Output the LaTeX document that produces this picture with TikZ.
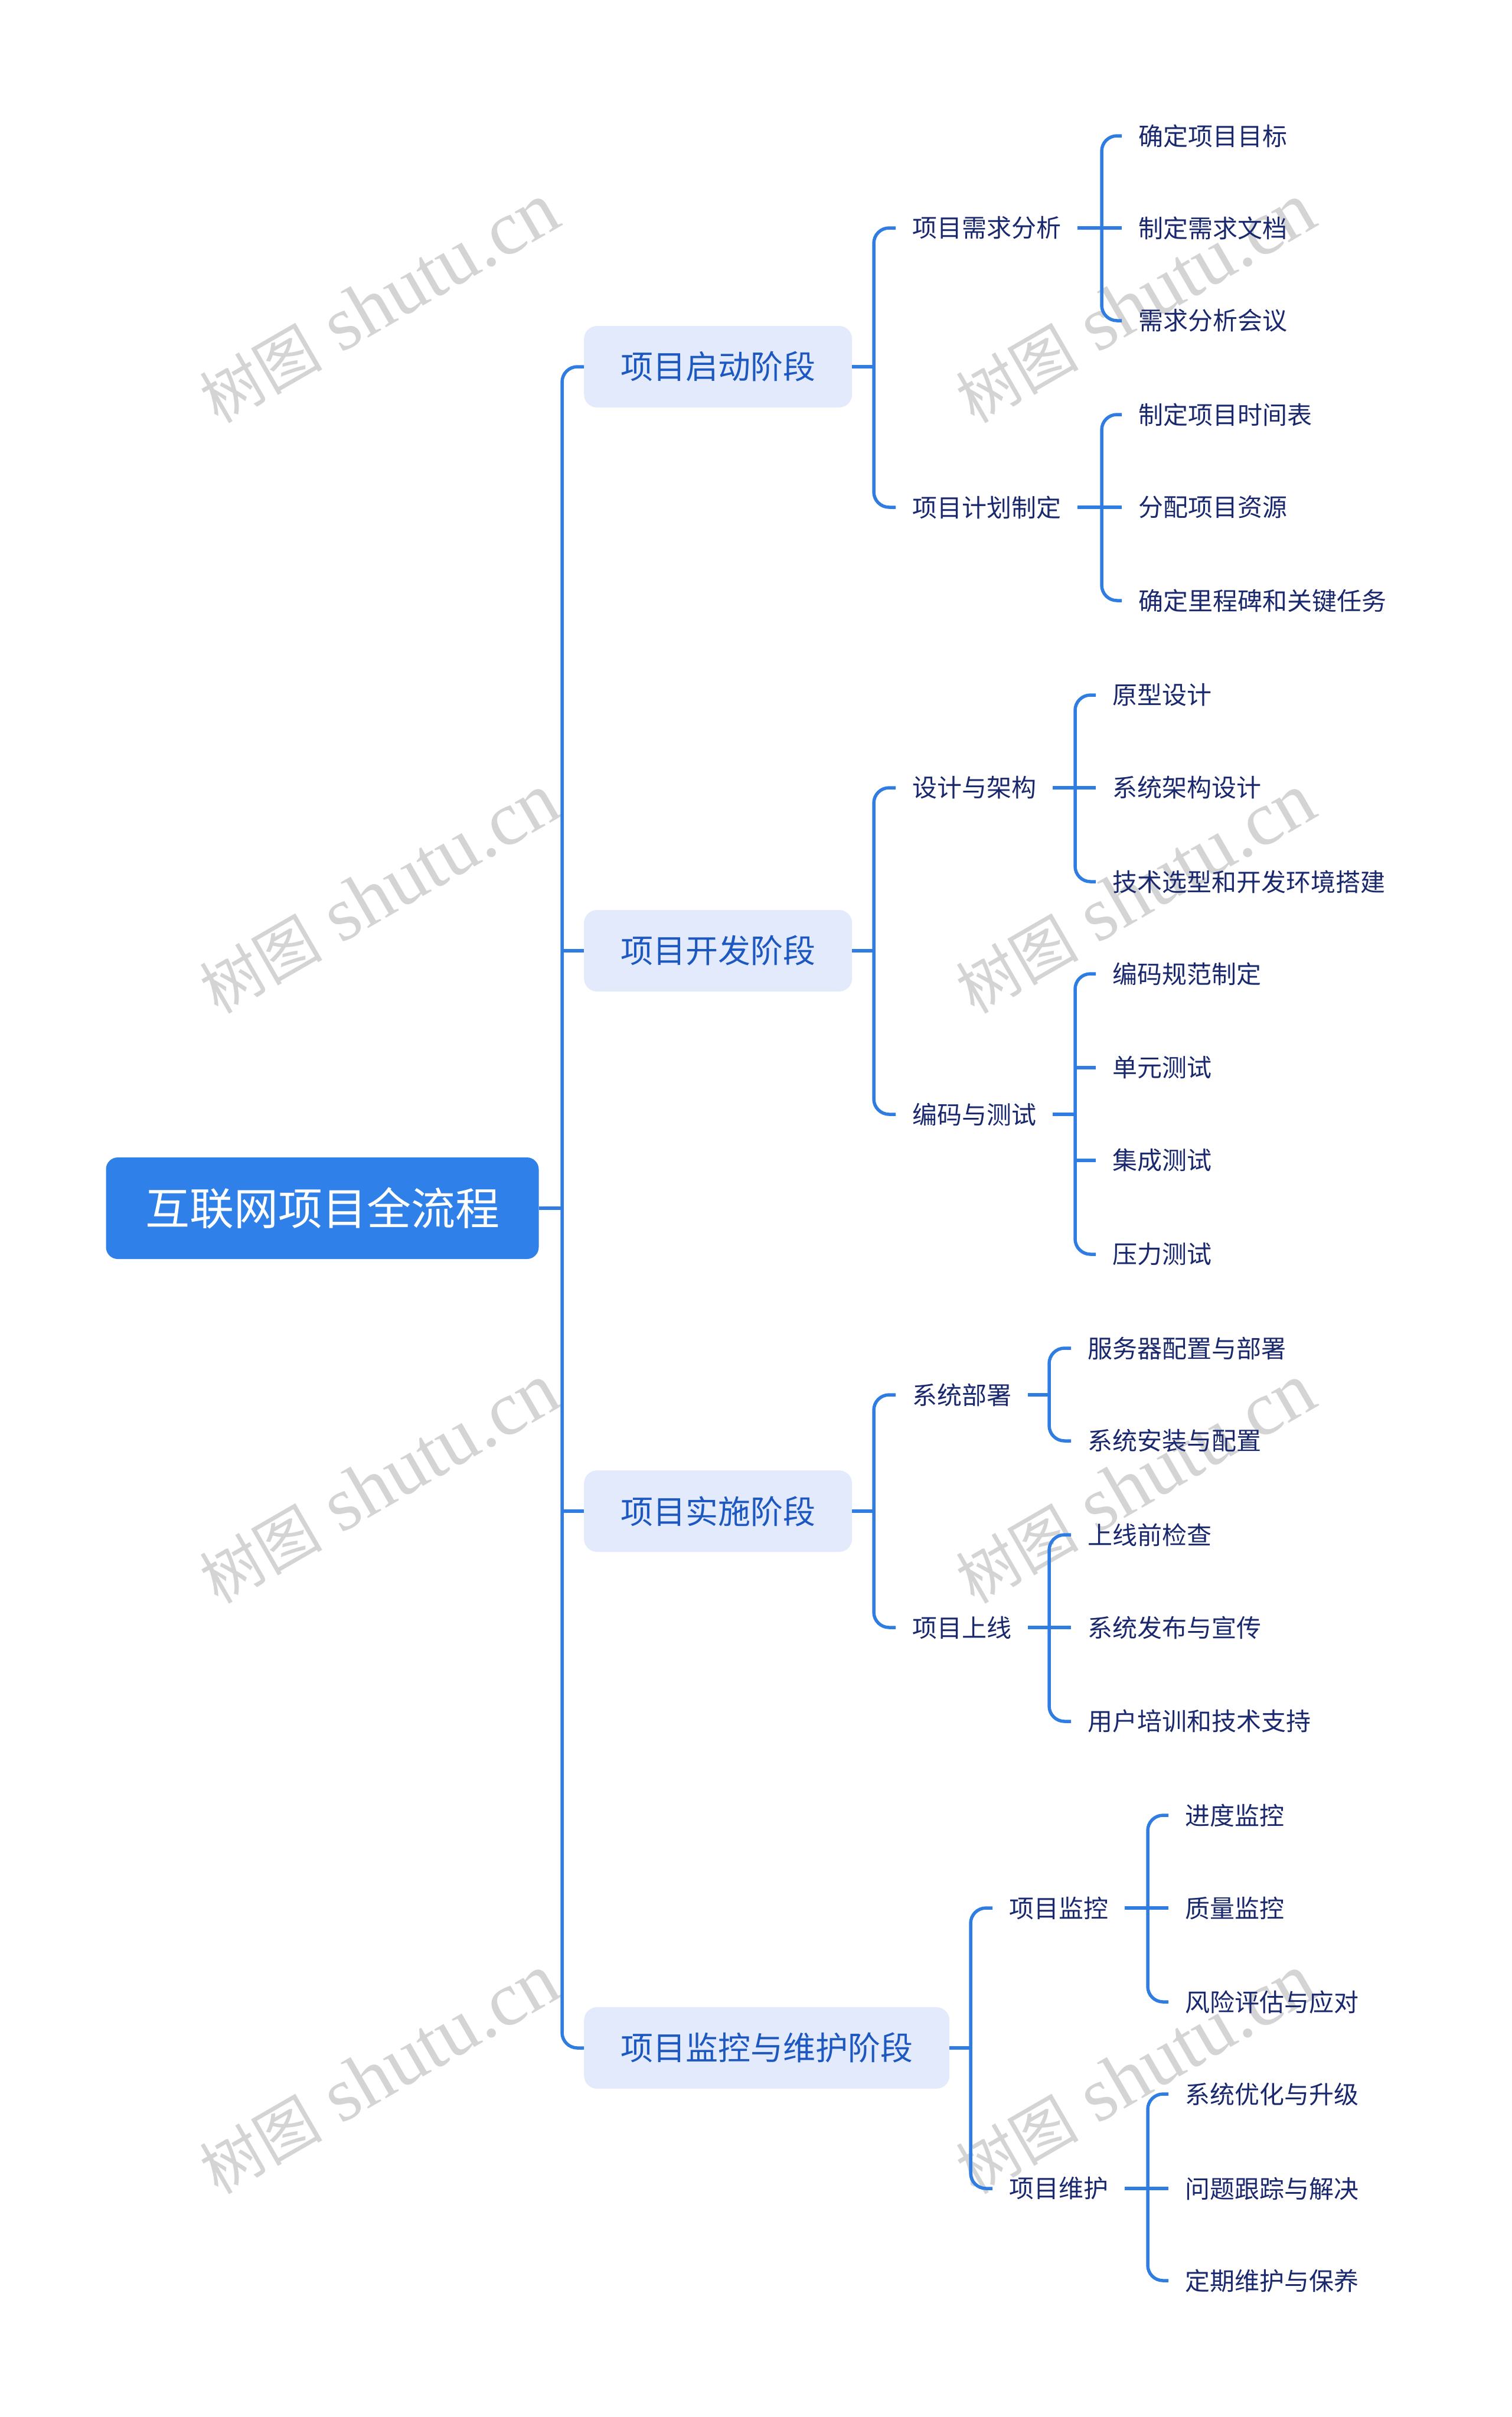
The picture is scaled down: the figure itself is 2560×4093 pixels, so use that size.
\documentclass[tikz,border=0pt]{standalone}
\usepackage{fontspec}
\usepackage{xcolor}
\newfontfamily\cjk{Noto Sans CJK SC}
\newfontfamily\wmfont{Liberation Serif}

\definecolor{rootblue}{RGB}{47,128,232}
\definecolor{phasefill}{RGB}{226,234,252}
\definecolor{phasetext}{RGB}{28,88,192}
\definecolor{tasktext}{RGB}{26,40,110}
\definecolor{linkblue}{RGB}{47,124,226}
\definecolor{wmgray}{RGB}{212,212,212}

\newcommand{\wmtext}{{\cjk\fontsize{104}{104}\selectfont 树图}\hspace{32pt}{\wmfont\fontsize{130}{130}\selectfont shutu.cn}}

\tikzset{
  root/.style={fill=rootblue, text=white, rounded corners=20pt,
    minimum width=733pt, minimum height=172pt,
    font=\cjk\fontsize{75}{75}\selectfont},
  phase/.style={fill=phasefill, text=phasetext, rounded corners=22pt,
    minimum height=138pt, inner xsep=62pt, anchor=west,
    font=\cjk\fontsize{55}{55}\selectfont},
  task/.style={text=tasktext, inner xsep=28pt, inner ysep=6pt, anchor=west,
    font=\cjk\fontsize{42}{42}\selectfont},
  link/.style={draw=linkblue, line width=5.5pt, rounded corners=26pt},
  wm/.style={text=wmgray, rotate=30}
}

\begin{document}
\begin{tikzpicture}[x=1pt,y=-1pt]
    \fill[white] (0,0) rectangle (2560,4093);
    \useasboundingbox (0,0) rectangle (2560,4093);

    % Watermarks
    \node[wm] (wm1) at (642,514) {\wmtext};
    \node[wm] (wm2) at (1923,514) {\wmtext};
    \node[wm] (wm3) at (642,1514) {\wmtext};
    \node[wm] (wm4) at (1923,1514) {\wmtext};
    \node[wm] (wm5) at (642,2513) {\wmtext};
    \node[wm] (wm6) at (1923,2513) {\wmtext};
    \node[wm] (wm7) at (642,3513) {\wmtext};
    \node[wm] (wm8) at (1923,3513) {\wmtext};

    % Root and phases
    \node[root] (root) at (546,2046) {互联网项目全流程};
    \node[phase] (p1) at (989,621) {项目启动阶段};
    \node[phase] (p2) at (989,1610) {项目开发阶段};
    \node[phase] (p3) at (989,2559) {项目实施阶段};
    \node[phase] (p4) at (989,3468) {项目监控与维护阶段};

    % Spines
    \coordinate (trunk) at (952,0);
    \coordinate (sa) at (1480,0);
    \coordinate (sb) at (1480,0);
    \coordinate (sc) at (1480,0);
    \coordinate (sd) at (1644,0);
    \coordinate (sa1) at (1866,0);
    \coordinate (sb1) at (1821,0);
    \coordinate (sc1) at (1777,0);
    \coordinate (sd1) at (1944,0);

    % Start phase
    \node[task] (a1) at (1517,386) {项目需求分析};
    \node[task] (a2) at (1517,859) {项目计划制定};
    \node[task] (a11) at (1900,230) {确定项目目标};
    \node[task] (a12) at (1900,386) {制定需求文档};
    \node[task] (a13) at (1900,543) {需求分析会议};
    \node[task] (a21) at (1900,702) {制定项目时间表};
    \node[task] (a22) at (1900,859) {分配项目资源};
    \node[task] (a23) at (1900,1017) {确定里程碑和关键任务};

    % Development phase
    \node[task] (b1) at (1517,1334) {设计与架构};
    \node[task] (b2) at (1517,1887) {编码与测试};
    \node[task] (b11) at (1856,1177) {原型设计};
    \node[task] (b12) at (1856,1334) {系统架构设计};
    \node[task] (b13) at (1856,1493) {技术选型和开发环境搭建};
    \node[task] (b21) at (1856,1649) {编码规范制定};
    \node[task] (b22) at (1856,1808) {单元测试};
    \node[task] (b23) at (1856,1965) {集成测试};
    \node[task] (b24) at (1856,2124) {压力测试};

    % Implementation phase
    \node[task] (c1) at (1517,2362) {系统部署};
    \node[task] (c2) at (1517,2756) {项目上线};
    \node[task] (c11) at (1814,2283) {服务器配置与部署};
    \node[task] (c12) at (1814,2440) {系统安装与配置};
    \node[task] (c21) at (1814,2599) {上线前检查};
    \node[task] (c22) at (1814,2756) {系统发布与宣传};
    \node[task] (c23) at (1814,2915) {用户培训和技术支持};

    % Monitoring and maintenance phase
    \node[task] (d1) at (1681,3231) {项目监控};
    \node[task] (d2) at (1681,3706) {项目维护};
    \node[task] (d11) at (1979,3074) {进度监控};
    \node[task] (d12) at (1979,3231) {质量监控};
    \node[task] (d13) at (1979,3390) {风险评估与应对};
    \node[task] (d21) at (1979,3546) {系统优化与升级};
    \node[task] (d22) at (1979,3706) {问题跟踪与解决};
    \node[task] (d23) at (1979,3862) {定期维护与保养};

    % Root to phases
    \draw[link] (root.east) -- (root.east -| trunk);
    \draw[link] (p1.west) -- (p1.west -| trunk) -- (p4.west -| trunk) -- (p4.west);
    \draw[link] (p2.west -| trunk) -- (p2.west);
    \draw[link] (p3.west -| trunk) -- (p3.west);

    % Phases to steps
    \draw[link] (p1.east) -- (p1.east -| sa);
    \draw[link] (a1.west) -- (a1.west -| sa) -- (a2.west -| sa) -- (a2.west);
    \draw[link] (p2.east) -- (p2.east -| sb);
    \draw[link] (b1.west) -- (b1.west -| sb) -- (b2.west -| sb) -- (b2.west);
    \draw[link] (p3.east) -- (p3.east -| sc);
    \draw[link] (c1.west) -- (c1.west -| sc) -- (c2.west -| sc) -- (c2.west);
    \draw[link] (p4.east) -- (p4.east -| sd);
    \draw[link] (d1.west) -- (d1.west -| sd) -- (d2.west -| sd) -- (d2.west);

    % Steps to tasks
    \draw[link] (a1.east) -- (a1.east -| sa1);
    \draw[link] (a11.west) -- (a11.west -| sa1) -- (a13.west -| sa1) -- (a13.west);
    \draw[link] (a12.west -| sa1) -- (a12.west);
    \draw[link] (a2.east) -- (a2.east -| sa1);
    \draw[link] (a21.west) -- (a21.west -| sa1) -- (a23.west -| sa1) -- (a23.west);
    \draw[link] (a22.west -| sa1) -- (a22.west);

    \draw[link] (b1.east) -- (b1.east -| sb1);
    \draw[link] (b11.west) -- (b11.west -| sb1) -- (b13.west -| sb1) -- (b13.west);
    \draw[link] (b12.west -| sb1) -- (b12.west);
    \draw[link] (b2.east) -- (b2.east -| sb1);
    \draw[link] (b21.west) -- (b21.west -| sb1) -- (b24.west -| sb1) -- (b24.west);
    \draw[link] (b22.west -| sb1) -- (b22.west);
    \draw[link] (b23.west -| sb1) -- (b23.west);

    \draw[link] (c1.east) -- (c1.east -| sc1);
    \draw[link] (c11.west) -- (c11.west -| sc1) -- (c12.west -| sc1) -- (c12.west);
    \draw[link] (c2.east) -- (c2.east -| sc1);
    \draw[link] (c21.west) -- (c21.west -| sc1) -- (c23.west -| sc1) -- (c23.west);
    \draw[link] (c22.west -| sc1) -- (c22.west);

    \draw[link] (d1.east) -- (d1.east -| sd1);
    \draw[link] (d11.west) -- (d11.west -| sd1) -- (d13.west -| sd1) -- (d13.west);
    \draw[link] (d12.west -| sd1) -- (d12.west);
    \draw[link] (d2.east) -- (d2.east -| sd1);
    \draw[link] (d21.west) -- (d21.west -| sd1) -- (d23.west -| sd1) -- (d23.west);
    \draw[link] (d22.west -| sd1) -- (d22.west);
\end{tikzpicture}
\end{document}
